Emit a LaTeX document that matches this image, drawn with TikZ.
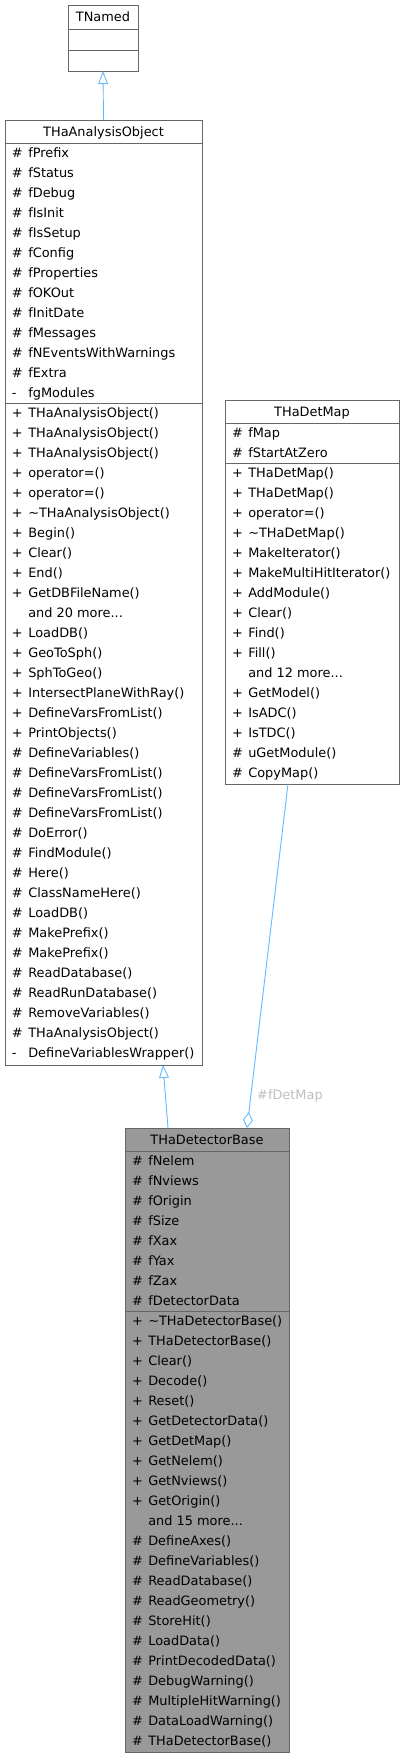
\documentclass[tikz,border=0pt]{standalone}
\usepackage{fontspec}
\setmainfont{DejaVu Sans}
\usetikzlibrary{arrows.meta}
\definecolor{edgeblue}{HTML}{63B8FF}
\definecolor{frame}{HTML}{666666}
\definecolor{mainfill}{HTML}{999999}
\definecolor{lblgray}{HTML}{BEBEBE}
\tikzset{
  classbox/.style={draw=frame, line width=0.8pt, fill=white, inner sep=0pt, outer sep=0pt, anchor=north west},
  mainbox/.style={classbox, fill=mainfill},
  sepline/.style={draw=frame, line width=0.8pt},
  rowtxt/.style={anchor=base west, inner sep=0pt, outer sep=0pt, font=\fontsize{12.9}{15}\selectfont},
  titletxt/.style={anchor=base, inner sep=0pt, outer sep=0pt, font=\fontsize{12.9}{15}\selectfont},
  edgelbl/.style={anchor=base west, inner sep=0pt, text=lblgray, font=\fontsize{12.9}{15}\selectfont},
  conn/.style={draw=edgeblue, line width=0.9pt},
  inherit/.style={conn, -{Triangle[open, length=13pt, width=10pt]}},
  aggreg/.style={conn, {Diamond[open, length=16pt, width=10pt]}-},
}
\newcommand\mydots{...}
\newcommand\classrows[4]{%
  \foreach \s/\t [count=\i from 0] in {#4} {%
    \node[rowtxt] (#1\i) at (#2, {#3+20*\i}) {\makebox[16.3pt][l]{\s}\t};
  }%
}
\begin{document}
\begin{tikzpicture}[x=1pt, y=-1pt]
\useasboundingbox (0,0) rectangle (405,1759);

% TNamed
\node[classbox, minimum width=70pt, minimum height=66pt] (tnamed) at (68,5) {};
\draw[sepline] (68,29) -- (138,29);
\draw[sepline] (68,50) -- (138,50);
\node[titletxt] (tnamedt) at (103,21.7) {TNamed};

% THaAnalysisObject
\node[classbox, minimum width=197pt, minimum height=945pt] (aobj) at (5,120) {};
\draw[sepline] (5,143) -- (202,143);
\draw[sepline] (5,403) -- (202,403);
\node[titletxt] (aobjt) at (103.5,136.2) {THaAnalysisObject};
\classrows{aobja}{12}{157.7}{\#/fPrefix, \#/fStatus, \#/fDebug, \#/fIsInit, \#/fIsSetup, \#/fConfig, \#/fProperties, \#/fOKOut, \#/fInitDate, \#/fMessages, \#/fNEventsWithWarnings, \#/fExtra, -/fgModules}
\classrows{aobjm}{12}{417.7}{+/THaAnalysisObject(), +/THaAnalysisObject(), +/THaAnalysisObject(), +/operator=(), +/operator=(), +/\textasciitilde THaAnalysisObject(), +/Begin(), +/Clear(), +/End(), +/GetDBFileName(), {}/and 20 more\mydots, +/LoadDB(), +/GeoToSph(), +/SphToGeo(), +/IntersectPlaneWithRay(), +/DefineVarsFromList(), +/PrintObjects(), \#/DefineVariables(), \#/DefineVarsFromList(), \#/DefineVarsFromList(), \#/DefineVarsFromList(), \#/DoError(), \#/FindModule(), \#/Here(), \#/ClassNameHere(), \#/LoadDB(), \#/MakePrefix(), \#/MakePrefix(), \#/ReadDatabase(), \#/ReadRunDatabase(), \#/RemoveVariables(), \#/THaAnalysisObject(), -/DefineVariablesWrapper()}

% THaDetMap
\node[classbox, minimum width=174pt, minimum height=384pt] (detmap) at (225,400) {};
\draw[sepline] (225,423) -- (399,423);
\draw[sepline] (225,463) -- (399,463);
\node[titletxt] (detmapt) at (312,416.2) {THaDetMap};
\classrows{detmapa}{232}{437.7}{\#/fMap, \#/fStartAtZero}
\classrows{detmapm}{232}{477.7}{+/THaDetMap(), +/THaDetMap(), +/operator=(), +/\textasciitilde THaDetMap(), +/MakeIterator(), +/MakeMultiHitIterator(), +/AddModule(), +/Clear(), +/Find(), +/Fill(), {}/and 12 more\mydots, +/GetModel(), +/IsADC(), +/IsTDC(), \#/uGetModule(), \#/CopyMap()}

% THaDetectorBase
\node[mainbox, minimum width=164pt, minimum height=624pt] (detbase) at (125,1128) {};
\draw[sepline] (125,1151) -- (289,1151);
\draw[sepline] (125,1311) -- (289,1311);
\node[titletxt] (detbaset) at (207,1144.7) {THaDetectorBase};
\classrows{detbasea}{132}{1165.7}{\#/fNelem, \#/fNviews, \#/fOrigin, \#/fSize, \#/fXax, \#/fYax, \#/fZax, \#/fDetectorData}
\classrows{detbasem}{132}{1325.7}{+/\textasciitilde THaDetectorBase(), +/THaDetectorBase(), +/Clear(), +/Decode(), +/Reset(), +/GetDetectorData(), +/GetDetMap(), +/GetNelem(), +/GetNviews(), +/GetOrigin(), {}/and 15 more\mydots, \#/DefineAxes(), \#/DefineVariables(), \#/ReadDatabase(), \#/ReadGeometry(), \#/StoreHit(), \#/LoadData(), \#/PrintDecodedData(), \#/DebugWarning(), \#/MultipleHitWarning(), \#/DataLoadWarning(), \#/THaDetectorBase()}

% connectors
\draw[inherit] (aobj.north) -- (tnamed.south);
\draw[inherit] ([xshift=-39pt]detbase.north) -- ([xshift=59.5pt]aobj.south);
\draw[aggreg] ([xshift=40pt]detbase.north) -- ([xshift=-24pt]detmap.south);
\node[edgelbl] (lbl) at (257,1099.7) {\#fDetMap};
\end{tikzpicture}
\end{document}
